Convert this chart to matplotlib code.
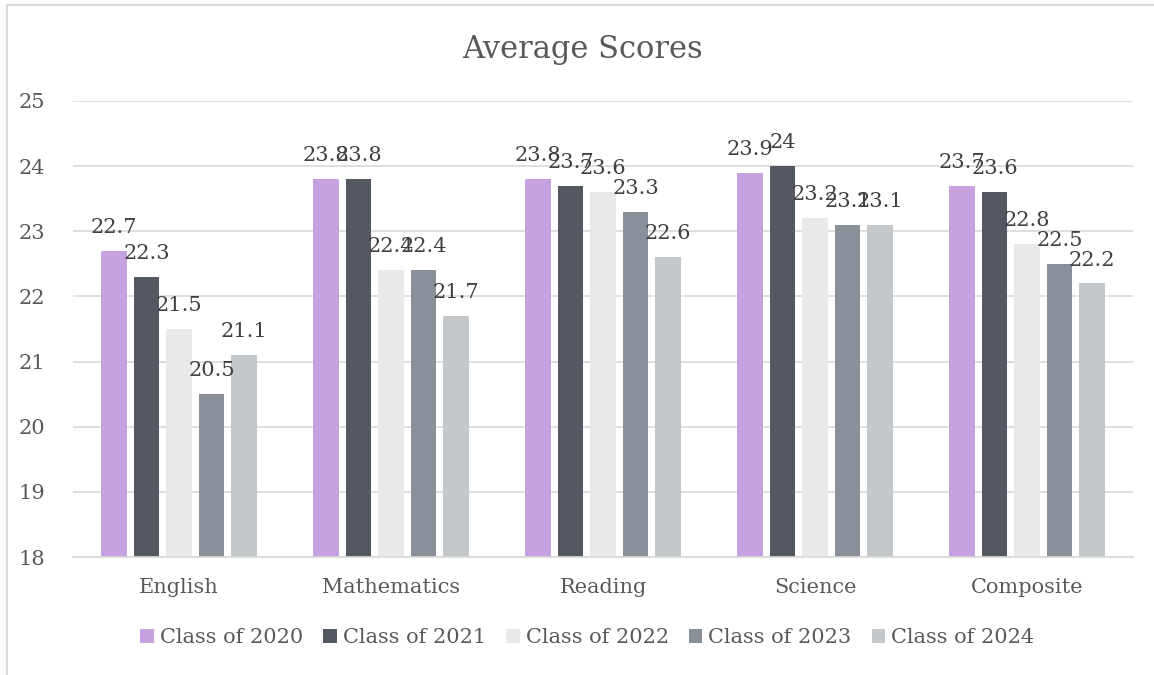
import numpy as np
import matplotlib.pyplot as plt
from matplotlib.lines import Line2D
from matplotlib.patches import Patch

plt.rcParams['font.family'] = ['DejaVu Serif']

subjects = ['English', 'Mathematics', 'Reading', 'Science', 'Composite']
classes = ['Class of 2020', 'Class of 2021', 'Class of 2022', 'Class of 2023', 'Class of 2024']
c2020 = [22.7, 23.8, 23.8, 23.9, 23.7]
c2021 = [22.3, 23.8, 23.7, 24.0, 23.6]
c2022 = [21.5, 22.4, 23.6, 23.2, 22.8]
c2023 = [20.5, 22.4, 23.3, 23.1, 22.5]
c2024 = [21.1, 21.7, 22.6, 23.1, 22.2]
series = [c2020, c2021, c2022, c2023, c2024]
colors = ['#C8A2E0', '#545860', '#E8E9EA', '#899099', '#C5C8CB']

fig = plt.figure(figsize=(11.54, 6.75), dpi=100)
# chart area border (top and left only visible)
fig.lines.append(Line2D([6.5 / 1154, 1.0], [1 - 4.5 / 675] * 2, transform=fig.transFigure,
                        color='#D9D9D9', linewidth=1.5))
fig.lines.append(Line2D([6.5 / 1154] * 2, [0.0, 1 - 4.5 / 675], transform=fig.transFigure,
                        color='#D9D9D9', linewidth=1.5))

ax = fig.add_axes([0.0633, 0.1748, 0.9185, 0.6756])

x = np.arange(len(subjects))
w = 0.12
step = 0.153
for i, (vals, col, name) in enumerate(zip(series, colors, classes)):
    pos = x + (i - 2) * step
    ax.bar(pos, np.array(vals) - 18, w, bottom=18, color=col, label=name, zorder=2)
    for p, v in zip(pos, vals):
        ax.annotate(f'{v:g}', (p, v), xytext=(0, 10), textcoords='offset points',
                    ha='center', va='bottom', fontsize=15, color='#404040', zorder=3)

ax.set_xlim(-0.5, 4.5)
ax.set_ylim(18, 25)
ax.set_yticks(range(18, 26))
ax.set_xticks(x)
ax.set_xticklabels(subjects)
ax.grid(axis='y', color='#D9D9D9', linewidth=1.2, zorder=0)
for s in ['top', 'right', 'left']:
    ax.spines[s].set_visible(False)
ax.spines['bottom'].set_color('#D9D9D9')
ax.spines['bottom'].set_linewidth(1.2)
ax.tick_params(axis='both', length=0, labelsize=15, labelcolor='#595959')
ax.tick_params(axis='y', pad=20)
ax.tick_params(axis='x', pad=15)

fig.text(0.505, 0.926, 'Average Scores', ha='center', va='center', fontsize=22, color='#595959')

handles = [Patch(facecolor=c) for c in colors]
fig.legend(handles, classes, loc='center', bbox_to_anchor=(0.509, 0.055), ncol=5,
           frameon=False, fontsize=15, labelcolor='#595959', handlelength=0.65,
           handleheight=0.65, handletextpad=0.3, columnspacing=0.95)

fig.savefig('out.png', dpi=100)
